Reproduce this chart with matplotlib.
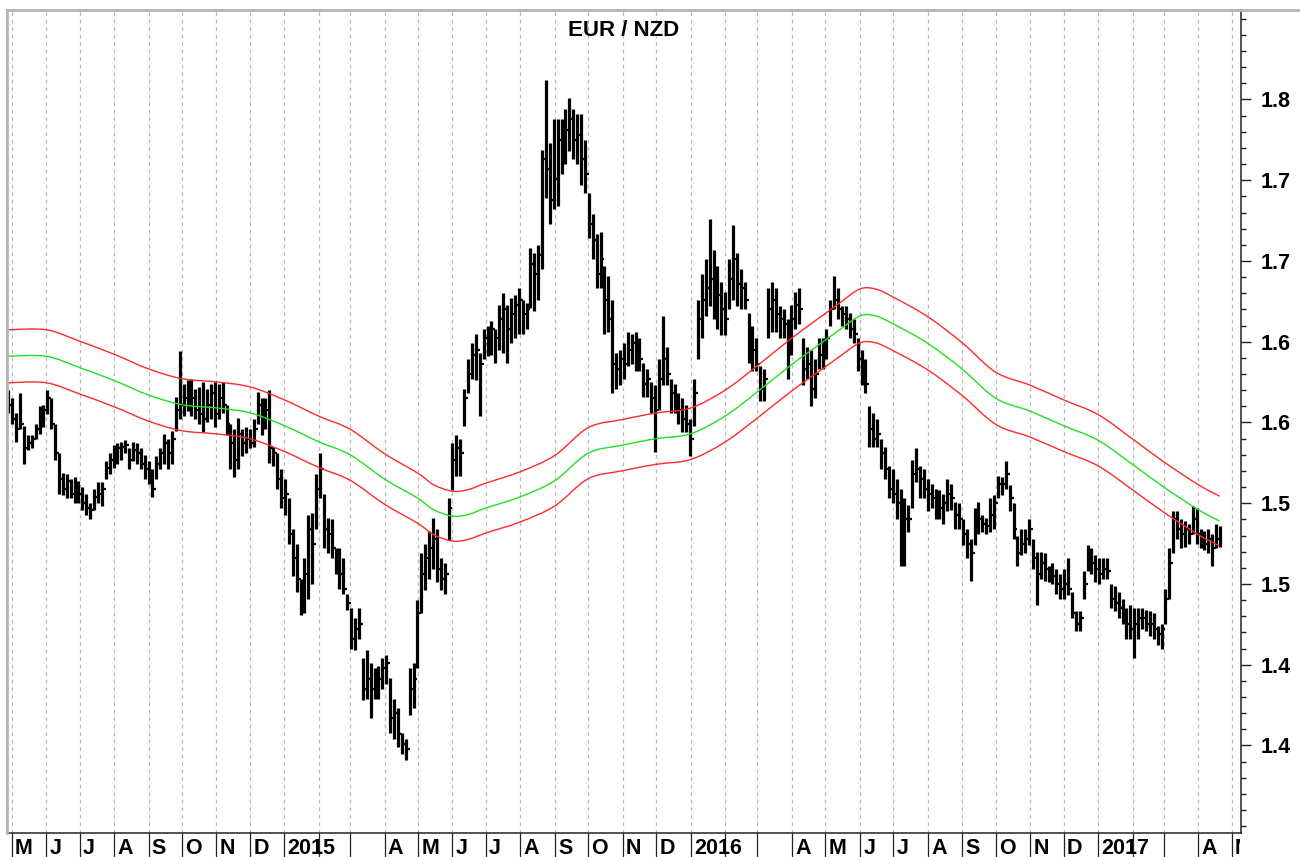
import numpy as np
import pandas as pd
import matplotlib
matplotlib.use('Agg')
import matplotlib.pyplot as plt
import matplotlib.dates as mdates
from matplotlib.lines import Line2D
from matplotlib.path import Path
from matplotlib.patches import PathPatch
from matplotlib.transforms import blended_transform_factory, Bbox, TransformedBbox, ScaledTranslation
from matplotlib.ticker import FixedLocator, FixedFormatter, MultipleLocator

plt.rcParams['font.family'] = ['Liberation Sans', 'DejaVu Sans']
plt.rcParams['font.weight'] = 'bold'

# ---------------- data (semi-weekly bars) ----------------
bar_start = '2014-04-28'
bar_step = '84h'

high = [
    1.620, 1.615, 1.606, 1.618, 1.598, 1.592, 1.592, 1.599, 1.610, 1.611,
    1.620, 1.615, 1.599, 1.581, 1.569, 1.568, 1.565, 1.566, 1.564, 1.560,
    1.556, 1.550, 1.559, 1.563, 1.563, 1.576, 1.581, 1.586, 1.587, 1.588,
    1.589, 1.584, 1.588, 1.587, 1.584, 1.580, 1.576, 1.571, 1.579, 1.584,
    1.593, 1.590, 1.595, 1.616, 1.644, 1.624, 1.626, 1.627, 1.621, 1.622,
    1.625, 1.621, 1.624, 1.625, 1.624, 1.625, 1.611, 1.599, 1.596, 1.603,
    1.596, 1.597, 1.596, 1.602, 1.619, 1.615, 1.615, 1.620, 1.585, 1.581,
    1.571, 1.565, 1.553, 1.534, 1.525, 1.503, 1.516, 1.543, 1.544, 1.568,
    1.581, 1.556, 1.541, 1.540, 1.522, 1.522, 1.516, 1.494, 1.485, 1.479,
    1.485, 1.454, 1.459, 1.451, 1.448, 1.449, 1.454, 1.456, 1.442, 1.429,
    1.423, 1.408, 1.404, 1.448, 1.451, 1.490, 1.519, 1.525, 1.533, 1.541,
    1.534, 1.516, 1.513, 1.553, 1.587, 1.592, 1.590, 1.621, 1.639, 1.649,
    1.655, 1.643, 1.658, 1.660, 1.663, 1.658, 1.673, 1.680, 1.673, 1.677,
    1.679, 1.683, 1.676, 1.674, 1.708, 1.705, 1.710, 1.769, 1.812, 1.773,
    1.788, 1.788, 1.788, 1.794, 1.801, 1.794, 1.791, 1.791, 1.775, 1.742,
    1.729, 1.717, 1.718, 1.697, 1.691, 1.676, 1.643, 1.645, 1.649, 1.656,
    1.655, 1.656, 1.652, 1.637, 1.633, 1.625, 1.623, 1.639, 1.666, 1.647,
    1.627, 1.624, 1.618, 1.615, 1.611, 1.602, 1.627, 1.676, 1.692, 1.701,
    1.726, 1.707, 1.697, 1.687, 1.681, 1.701, 1.722, 1.705, 1.695, 1.687,
    1.668, 1.660, 1.652, 1.635, 1.633, 1.683, 1.687, 1.683, 1.672, 1.670,
    1.664, 1.673, 1.681, 1.683, 1.652, 1.647, 1.645, 1.639, 1.652, 1.652,
    1.658, 1.676, 1.691, 1.683, 1.672, 1.672, 1.668, 1.664, 1.652, 1.645,
    1.639, 1.610, 1.606, 1.602, 1.590, 1.585, 1.573, 1.571, 1.565, 1.559,
    1.553, 1.549, 1.577, 1.584, 1.573, 1.571, 1.565, 1.562, 1.559, 1.558,
    1.556, 1.565, 1.562, 1.551, 1.550, 1.540, 1.534, 1.528, 1.547, 1.551,
    1.543, 1.541, 1.553, 1.555, 1.567, 1.566, 1.576, 1.561, 1.550, 1.530,
    1.534, 1.534, 1.540, 1.528, 1.520, 1.520, 1.519, 1.511, 1.513, 1.509,
    1.506, 1.509, 1.516, 1.495, 1.483, 1.483, 1.508, 1.524, 1.522, 1.518,
    1.516, 1.516, 1.516, 1.500, 1.499, 1.495, 1.491, 1.485, 1.487, 1.485,
    1.485, 1.485, 1.484, 1.483, 1.482, 1.474, 1.475, 1.497, 1.522, 1.545,
    1.545, 1.540, 1.539, 1.537, 1.548, 1.547, 1.534, 1.533, 1.534, 1.531,
    1.537, 1.536,
]

low = [
    1.606, 1.599, 1.588, 1.596, 1.574, 1.583, 1.584, 1.590, 1.593, 1.597,
    1.605, 1.596, 1.577, 1.556, 1.555, 1.553, 1.553, 1.550, 1.550, 1.546,
    1.543, 1.540, 1.546, 1.550, 1.548, 1.565, 1.568, 1.572, 1.574, 1.577,
    1.581, 1.571, 1.576, 1.574, 1.571, 1.565, 1.562, 1.554, 1.565, 1.571,
    1.574, 1.571, 1.574, 1.595, 1.602, 1.604, 1.607, 1.604, 1.602, 1.599,
    1.594, 1.600, 1.602, 1.597, 1.602, 1.606, 1.592, 1.571, 1.566, 1.571,
    1.579, 1.581, 1.584, 1.585, 1.599, 1.592, 1.596, 1.575, 1.573, 1.559,
    1.547, 1.543, 1.525, 1.505, 1.495, 1.481, 1.482, 1.491, 1.500, 1.534,
    1.553, 1.522, 1.519, 1.516, 1.506, 1.497, 1.494, 1.484, 1.460, 1.459,
    1.466, 1.428, 1.429, 1.417, 1.429, 1.429, 1.435, 1.438, 1.408, 1.404,
    1.399, 1.395, 1.391, 1.419, 1.423, 1.448, 1.482, 1.496, 1.503, 1.509,
    1.501, 1.496, 1.494, 1.527, 1.558, 1.567, 1.567, 1.598, 1.618, 1.627,
    1.626, 1.604, 1.639, 1.641, 1.642, 1.637, 1.645, 1.643, 1.637, 1.649,
    1.652, 1.655, 1.655, 1.658, 1.671, 1.669, 1.676, 1.695, 1.739, 1.723,
    1.732, 1.734, 1.754, 1.760, 1.768, 1.763, 1.760, 1.747, 1.742, 1.714,
    1.701, 1.683, 1.683, 1.655, 1.656, 1.618, 1.621, 1.623, 1.627, 1.635,
    1.636, 1.632, 1.632, 1.616, 1.616, 1.606, 1.582, 1.608, 1.623, 1.623,
    1.606, 1.606, 1.599, 1.594, 1.594, 1.579, 1.598, 1.639, 1.652, 1.666,
    1.672, 1.664, 1.658, 1.654, 1.654, 1.670, 1.676, 1.672, 1.670, 1.670,
    1.637, 1.632, 1.632, 1.613, 1.613, 1.652, 1.656, 1.656, 1.652, 1.652,
    1.627, 1.642, 1.658, 1.661, 1.623, 1.627, 1.610, 1.615, 1.633, 1.633,
    1.639, 1.660, 1.670, 1.664, 1.660, 1.658, 1.652, 1.649, 1.632, 1.623,
    1.618, 1.585, 1.585, 1.585, 1.571, 1.565, 1.553, 1.550, 1.540, 1.511,
    1.511, 1.532, 1.547, 1.563, 1.553, 1.553, 1.545, 1.547, 1.540, 1.540,
    1.537, 1.545, 1.546, 1.534, 1.534, 1.524, 1.516, 1.502, 1.524, 1.531,
    1.532, 1.531, 1.532, 1.534, 1.553, 1.555, 1.559, 1.545, 1.528, 1.511,
    1.518, 1.519, 1.524, 1.509, 1.487, 1.503, 1.502, 1.501, 1.500, 1.494,
    1.491, 1.491, 1.493, 1.479, 1.471, 1.471, 1.491, 1.508, 1.506, 1.501,
    1.500, 1.503, 1.503, 1.485, 1.483, 1.479, 1.475, 1.466, 1.466, 1.454,
    1.466, 1.472, 1.471, 1.468, 1.466, 1.462, 1.460, 1.475, 1.491, 1.519,
    1.528, 1.522, 1.523, 1.525, 1.531, 1.525, 1.522, 1.521, 1.519, 1.511,
    1.522, 1.523,
]

close = [
    1.611, 1.602, 1.596, 1.599, 1.584, 1.587, 1.590, 1.596, 1.605, 1.608,
    1.615, 1.599, 1.581, 1.565, 1.559, 1.564, 1.556, 1.559, 1.556, 1.550,
    1.547, 1.546, 1.554, 1.556, 1.559, 1.572, 1.577, 1.583, 1.584, 1.585,
    1.586, 1.577, 1.583, 1.581, 1.574, 1.571, 1.568, 1.559, 1.574, 1.581,
    1.587, 1.581, 1.590, 1.608, 1.611, 1.615, 1.618, 1.615, 1.608, 1.605,
    1.602, 1.611, 1.618, 1.605, 1.615, 1.611, 1.599, 1.587, 1.577, 1.593,
    1.587, 1.590, 1.587, 1.596, 1.611, 1.599, 1.608, 1.584, 1.581, 1.565,
    1.553, 1.556, 1.531, 1.516, 1.503, 1.488, 1.506, 1.534, 1.525, 1.559,
    1.571, 1.534, 1.531, 1.522, 1.513, 1.506, 1.497, 1.488, 1.466, 1.472,
    1.475, 1.435, 1.441, 1.435, 1.438, 1.441, 1.448, 1.451, 1.417, 1.420,
    1.407, 1.401, 1.398, 1.435, 1.441, 1.482, 1.506, 1.516, 1.522, 1.528,
    1.509, 1.503, 1.506, 1.547, 1.577, 1.584, 1.581, 1.615, 1.630, 1.642,
    1.645, 1.636, 1.652, 1.655, 1.658, 1.652, 1.664, 1.670, 1.658, 1.667,
    1.673, 1.676, 1.667, 1.670, 1.698, 1.692, 1.704, 1.763, 1.757, 1.738,
    1.751, 1.775, 1.769, 1.781, 1.788, 1.775, 1.778, 1.763, 1.754, 1.723,
    1.713, 1.692, 1.701, 1.676, 1.664, 1.636, 1.633, 1.639, 1.636, 1.645,
    1.649, 1.642, 1.639, 1.624, 1.627, 1.615, 1.608, 1.627, 1.639, 1.630,
    1.618, 1.611, 1.608, 1.602, 1.599, 1.590, 1.618, 1.664, 1.676, 1.683,
    1.689, 1.676, 1.679, 1.670, 1.664, 1.689, 1.701, 1.686, 1.683, 1.676,
    1.652, 1.645, 1.636, 1.621, 1.627, 1.670, 1.676, 1.667, 1.664, 1.661,
    1.652, 1.664, 1.673, 1.670, 1.633, 1.636, 1.621, 1.630, 1.642, 1.645,
    1.652, 1.670, 1.676, 1.670, 1.667, 1.664, 1.658, 1.655, 1.639, 1.630,
    1.624, 1.596, 1.590, 1.593, 1.581, 1.571, 1.559, 1.556, 1.550, 1.534,
    1.540, 1.540, 1.568, 1.571, 1.565, 1.559, 1.556, 1.553, 1.550, 1.547,
    1.550, 1.556, 1.553, 1.543, 1.540, 1.531, 1.525, 1.519, 1.537, 1.540,
    1.537, 1.536, 1.543, 1.550, 1.562, 1.562, 1.568, 1.553, 1.534, 1.519,
    1.525, 1.528, 1.534, 1.516, 1.506, 1.513, 1.509, 1.506, 1.505, 1.500,
    1.497, 1.500, 1.497, 1.482, 1.475, 1.479, 1.500, 1.516, 1.513, 1.509,
    1.506, 1.509, 1.508, 1.491, 1.488, 1.485, 1.482, 1.475, 1.472, 1.475,
    1.479, 1.479, 1.475, 1.475, 1.472, 1.469, 1.472, 1.491, 1.513, 1.540,
    1.534, 1.531, 1.534, 1.531, 1.540, 1.531, 1.528, 1.525, 1.528, 1.522,
    1.528, 1.529,
]

ma_dates = ['2014-04-28', '2014-06-01', '2014-07-01', '2014-08-01', '2014-09-01',
            '2014-10-01', '2014-11-01', '2014-12-01', '2015-01-01', '2015-02-01',
            '2015-03-01', '2015-04-01', '2015-05-01', '2015-05-15', '2015-06-01',
            '2015-06-15', '2015-07-01', '2015-08-01', '2015-09-01', '2015-10-01',
            '2015-11-01', '2015-12-01', '2016-01-01', '2016-02-01', '2016-03-01',
            '2016-04-01', '2016-05-01', '2016-05-15', '2016-06-01', '2016-06-15',
            '2016-07-01', '2016-08-01', '2016-09-01', '2016-10-01', '2016-11-01',
            '2016-12-01', '2017-01-01', '2017-02-01', '2017-03-01', '2017-04-01',
            '2017-04-20']
ma_values = [1.641, 1.641, 1.634, 1.626, 1.617,
             1.611, 1.609, 1.606, 1.598, 1.588,
             1.580, 1.565, 1.553, 1.546, 1.542,
             1.543, 1.547, 1.554, 1.564, 1.581,
             1.586, 1.590, 1.593, 1.604, 1.619,
             1.636, 1.651, 1.658, 1.666, 1.666,
             1.661, 1.649, 1.633, 1.615, 1.607,
             1.598, 1.589, 1.574, 1.560, 1.546,
             1.539]
envelope_pct = 1.0

y_ticks = [1.40, 1.45, 1.50, 1.55, 1.60, 1.65, 1.70, 1.75, 1.80]
y_tick_labels = ['1.4', '1.4', '1.5', '1.5', '1.6', '1.6', '1.7', '1.7', '1.8']

month_labels = ['M', 'J', 'J', 'A', 'S', 'O', 'N', 'D',
                '2015', '', '', 'A', 'M', 'J', 'J', 'A', 'S', 'O', 'N', 'D',
                '2016', '', '', 'A', 'M', 'J', 'J', 'A', 'S', 'O', 'N', 'D',
                '2017', '', '', 'A', 'M']
title = 'EUR / NZD'


def smooth_path(xs, ys):
    """Smooth (Catmull-Rom style Bezier) drawing path through the given points."""
    pts = np.column_stack([xs, ys])
    ext = np.vstack([pts[0], pts, pts[-1]])
    verts = [pts[0]]
    codes = [Path.MOVETO]
    for i in range(len(pts) - 1):
        p0, p1, p2, p3 = ext[i], ext[i + 1], ext[i + 2], ext[i + 3]
        c1 = p1 + (p2 - p0) / 6.0
        c2 = p2 - (p3 - p1) / 6.0
        verts += [c1, c2, p2]
        codes += [Path.CURVE4] * 3
    return Path(np.array(verts), codes)


# ---------------- figure ----------------
W, H = 1300, 857
fig = plt.figure(figsize=(W / 100, H / 100), dpi=100)
ax_l, ax_r, ax_t, ax_b = 7, 1240.7, 10, 833
ax = fig.add_axes([ax_l / W, 1 - ax_b / H, (ax_r - ax_l) / W, (ax_b - ax_t) / H])

n = min(len(high), len(low), len(close))
bar_dates = pd.date_range(bar_start, periods=n, freq=bar_step)
xb = mdates.date2num(bar_dates.to_pydatetime())
hi = np.array(high[:n]); lo = np.array(low[:n]); cl = np.array(close[:n])
op = np.concatenate([[cl[0]], cl[:-1]])

ax.vlines(xb, lo, hi, color='black', lw=2.3, zorder=3)
ax.hlines(cl, xb, xb + 1.8, color='black', lw=1.6, zorder=3)
ax.hlines(op, xb - 1.8, xb, color='black', lw=1.6, zorder=3)

xm = mdates.date2num(pd.to_datetime(ma_dates).to_pydatetime())
ma = np.array(ma_values)
for vals, col in [(ma * (1 + envelope_pct / 100), '#ff2a2a'),
                  (ma, '#22e022'),
                  (ma * (1 - envelope_pct / 100), '#ff2a2a')]:
    ax.add_patch(PathPatch(smooth_path(xm, vals), fill=False, edgecolor=col,
                           lw=1.0, zorder=4))

# axis ranges
x0 = mdates.date2num(pd.Timestamp('2014-05-01')) - 4.2
x1 = mdates.date2num(pd.Timestamp('2017-05-01')) + 8.1
ax.set_xlim(x0, x1)
ax.set_ylim(1.3458, 1.8554)

# x axis: month ticks + dashed grid
month_starts = pd.date_range('2014-05-01', '2017-05-01', freq='MS')
xms = mdates.date2num(month_starts.to_pydatetime())
ax.set_xticks(xms)
ax.set_xticklabels([])
ax.tick_params(axis='x', which='major', direction='out', length=17.5, width=0.9,
               color='#222222')
ax.grid(axis='x', color='#b8b8b8', lw=0.9, linestyle=(0, (3, 3)))
ax.set_axisbelow(True)

# y axis on right
ax.yaxis.tick_right()
ax.yaxis.set_major_locator(FixedLocator(y_ticks))
ax.yaxis.set_major_formatter(FixedFormatter(y_tick_labels))
ax.yaxis.set_minor_locator(MultipleLocator(0.01))
ax.tick_params(axis='y', which='major', direction='out', length=7.2, width=1.0,
               pad=7.5, labelsize=15.5, color='#222222')
ax.tick_params(axis='y', which='minor', direction='out', length=3.8, width=1.0,
               color='#222222')
for lab in ax.get_yticklabels():
    lab.set_fontweight('bold')

for s in ['top', 'left']:
    ax.spines[s].set_visible(False)
for s in ['right', 'bottom']:
    ax.spines[s].set_color('#222222')
    ax.spines[s].set_linewidth(1.1)

# gray outer frame lines (top & left)
fig.add_artist(Line2D([ax_l / W, 1.0], [1 - ax_t / H] * 2, transform=fig.transFigure,
                      color='#b4b4b4', lw=2.0))
fig.add_artist(Line2D([ax_l / W] * 2, [1 - ax_t / H, 1 - ax_b / H], transform=fig.transFigure,
                      color='#b4b4b4', lw=2.0))

# title
ax.text(0.5, 1 - 20 / (ax_b - ax_t), title, transform=ax.transAxes, ha='center',
        va='center', fontsize=16, fontweight='bold')

# month labels
trans = blended_transform_factory(ax.transData, fig.transFigure) + \
    ScaledTranslation(3.3 / 100, 0, fig.dpi_scale_trans)
clipbox = TransformedBbox(Bbox([[0, 0], [(ax_r - 0.5) / W, 1]]), fig.transFigure)
for xv, lab in zip(xms, month_labels):
    if not lab:
        continue
    t = fig.text(xv, 3.5 / H, lab, transform=trans, ha='left', va='baseline',
                 fontsize=15.5, fontweight='bold', color='black')
    t.set_clip_box(clipbox)
    t.set_clip_on(True)

fig.savefig('out.png', dpi=100)
